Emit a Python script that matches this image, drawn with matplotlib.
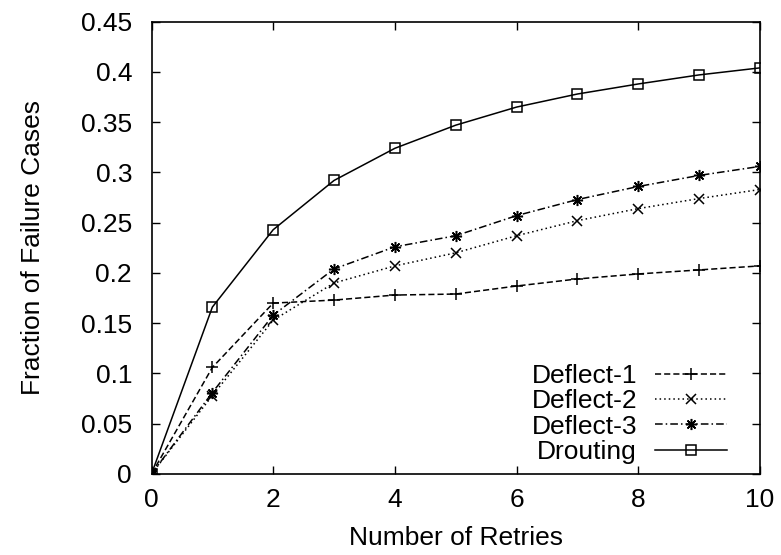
import matplotlib
matplotlib.use("Agg")
import matplotlib.pyplot as plt

# Данные
retries = [0, 1, 2, 3, 4, 5, 6, 7, 8, 9, 10]
deflect1 = [0.0, 0.106, 0.170, 0.173, 0.178, 0.179, 0.187, 0.194, 0.199, 0.203, 0.207]
deflect2 = [0.0, 0.078, 0.153, 0.190, 0.207, 0.220, 0.237, 0.252, 0.264, 0.274, 0.283]
deflect3 = [0.0, 0.081, 0.158, 0.204, 0.226, 0.237, 0.257, 0.273, 0.286, 0.297, 0.306]
drouting = [0.0, 0.166, 0.243, 0.292, 0.324, 0.347, 0.365, 0.378, 0.388, 0.397, 0.404]

labels = ["Deflect-1", "Deflect-2", "Deflect-3", "Drouting"]
xticks = [0, 2, 4, 6, 8, 10]
yticks = [0, 0.05, 0.1, 0.15, 0.2, 0.25, 0.3, 0.35, 0.4, 0.45]
ytick_labels = ["0", "0.05", "0.1", "0.15", "0.2", "0.25", "0.3", "0.35", "0.4", "0.45"]

plt.rcParams["font.family"] = ["Liberation Sans", "DejaVu Sans"]
plt.rcParams["font.size"] = 19

fig = plt.figure(figsize=(7.81, 5.55), dpi=100)
ax = fig.add_axes([0.194, 0.146, 0.779, 0.815])

lw = 1.1
ax.plot(retries, deflect1, color="black", lw=lw, linestyle=(0, (4, 2)),
        marker="+", markersize=8, markeredgewidth=1.1, label=labels[0])
ax.plot(retries, deflect2, color="black", lw=lw, linestyle=(0, (1, 2)),
        marker="x", markersize=7, markeredgewidth=1.1, label=labels[1])
ax.plot(retries, deflect3, color="black", lw=lw, linestyle=(0, (5, 2, 1, 2)),
        marker=(8, 2, 0), markersize=8, markeredgewidth=1.1, label=labels[2])
ax.plot(retries, drouting, color="black", lw=lw, linestyle="-",
        marker="s", markersize=6.5, markerfacecolor="none", markeredgewidth=1.1,
        label=labels[3])

ax.set_xlim(0, 10)
ax.set_ylim(0, 0.45)
ax.set_xticks(xticks)
ax.set_yticks(yticks)
ax.set_yticklabels(ytick_labels)
ax.tick_params(direction="in", length=6, width=1, top=True, right=True)
ax.tick_params(axis="y", pad=14)
ax.tick_params(axis="x", pad=10)
for s in ax.spines.values():
    s.set_linewidth(1.2)

ax.set_xlabel("Number of Retries", labelpad=10)
ax.set_ylabel("Fraction of Failure Cases", labelpad=26)

# легенда: подпись справа выровнена, образец линии после неё
leg = ax.legend(loc="lower right", frameon=False, markerfirst=False, numpoints=1,
                handlelength=2.73, handletextpad=0.68, labelspacing=0.05,
                borderaxespad=0.2, bbox_to_anchor=(0.972, -0.013))

fig.savefig("out.png", dpi=100)
